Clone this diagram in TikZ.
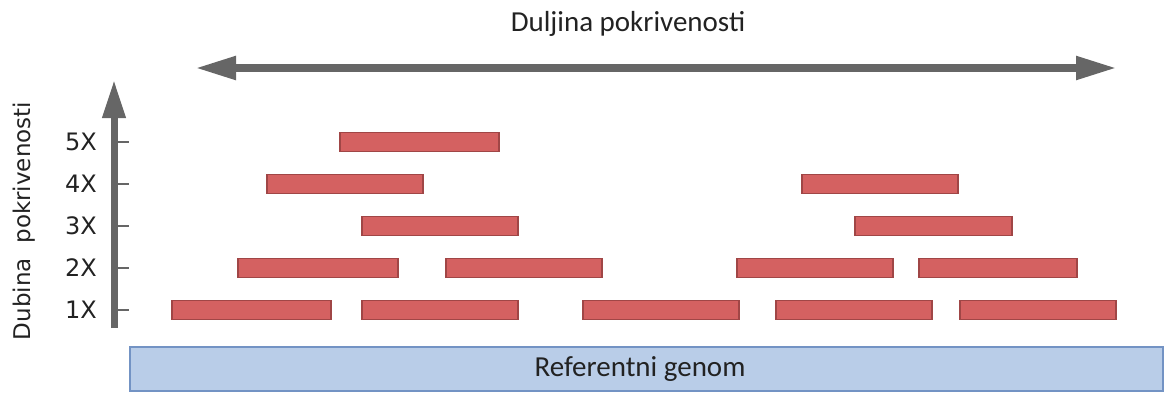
\documentclass[tikz,border=0pt]{standalone}
\usepackage{fontspec}
\setmainfont{Carlito}
\newfontfamily\axisfont{DejaVu Sans}
\usetikzlibrary{arrows.meta}
\definecolor{arrgray}{HTML}{666666}
\definecolor{barfill}{HTML}{D46161}
\definecolor{barline}{HTML}{A04646}
\definecolor{genfill}{HTML}{B9CDE8}
\definecolor{genline}{HTML}{7393C4}
\definecolor{txt}{HTML}{222222}
\tikzset{
  bar/.style={draw=barline, fill=barfill, line width=1.8pt, inner sep=0pt, minimum height=19pt},
  bigarrow/.style={draw=arrgray, line width=8pt},
  tickline/.style={draw=arrgray, line width=2.6pt},
  ticklabel/.style={anchor=east, inner sep=0pt, text=txt, font=\axisfont\fontsize{24}{24}\selectfont},
  title/.style={inner sep=0pt, text=txt, font=\fontsize{29}{29}\selectfont},
}
\begin{document}
\begin{tikzpicture}[x=1pt,y=-1pt]
\useasboundingbox (0,0) rectangle (1166,399);
% top arrow
\coordinate (hl) at (195,68);
\coordinate (hr) at (1117,68);
\draw[bigarrow, {Triangle[length=41pt,width=22pt]}-{Triangle[length=41pt,width=22pt]}] (hl) -- (hr);
\node[title] (htitle) at (628,24) {Duljina pokrivenosti};
% vertical axis
\coordinate (vb) at (114,328);
\coordinate (vt) at (114,80);
\draw[bigarrow, line width=7pt, -{Triangle[length=38pt,width=22pt]}] (vb) -- (vt);
\foreach \n/\y in {1/310,2/268,3/226,4/184,5/142}{
  \coordinate (t\n) at (114,\y);
  \coordinate (te\n) at (129,\y);
  \draw[tickline] (t\n) -- (te\n);
  \node[ticklabel] (l\n) at (97,\y) {\n X};
}
\node[inner sep=0pt, rotate=90, text=txt, font=\axisfont\fontsize{23}{23}\selectfont] (vtitle) at (24,221) {Dubina\ \ pokrivenosti};
% reads
\foreach \l/\r/\y [count=\i] in {
  340/499/142,
  267/423/184, 802/958/184,
  362/518/226, 855/1012/226,
  238/398/268, 446/602/268, 737/893/268, 919/1077/268,
  172/331/310, 362/518/310, 583/739/310, 776/932/310, 960/1116/310}{
  \node[bar, minimum width={\r pt-\l pt}] (bar\i) at ({(\l+\r)/2},\y) {};
}
% reference genome
\node[draw=genline, fill=genfill, line width=2pt, inner sep=0pt, minimum width=1033pt, minimum height=44pt] (genome) at (646.5,369) {};
\node[title] (gtext) at (640,369) {Referentni genom};
\end{tikzpicture}
\end{document}
